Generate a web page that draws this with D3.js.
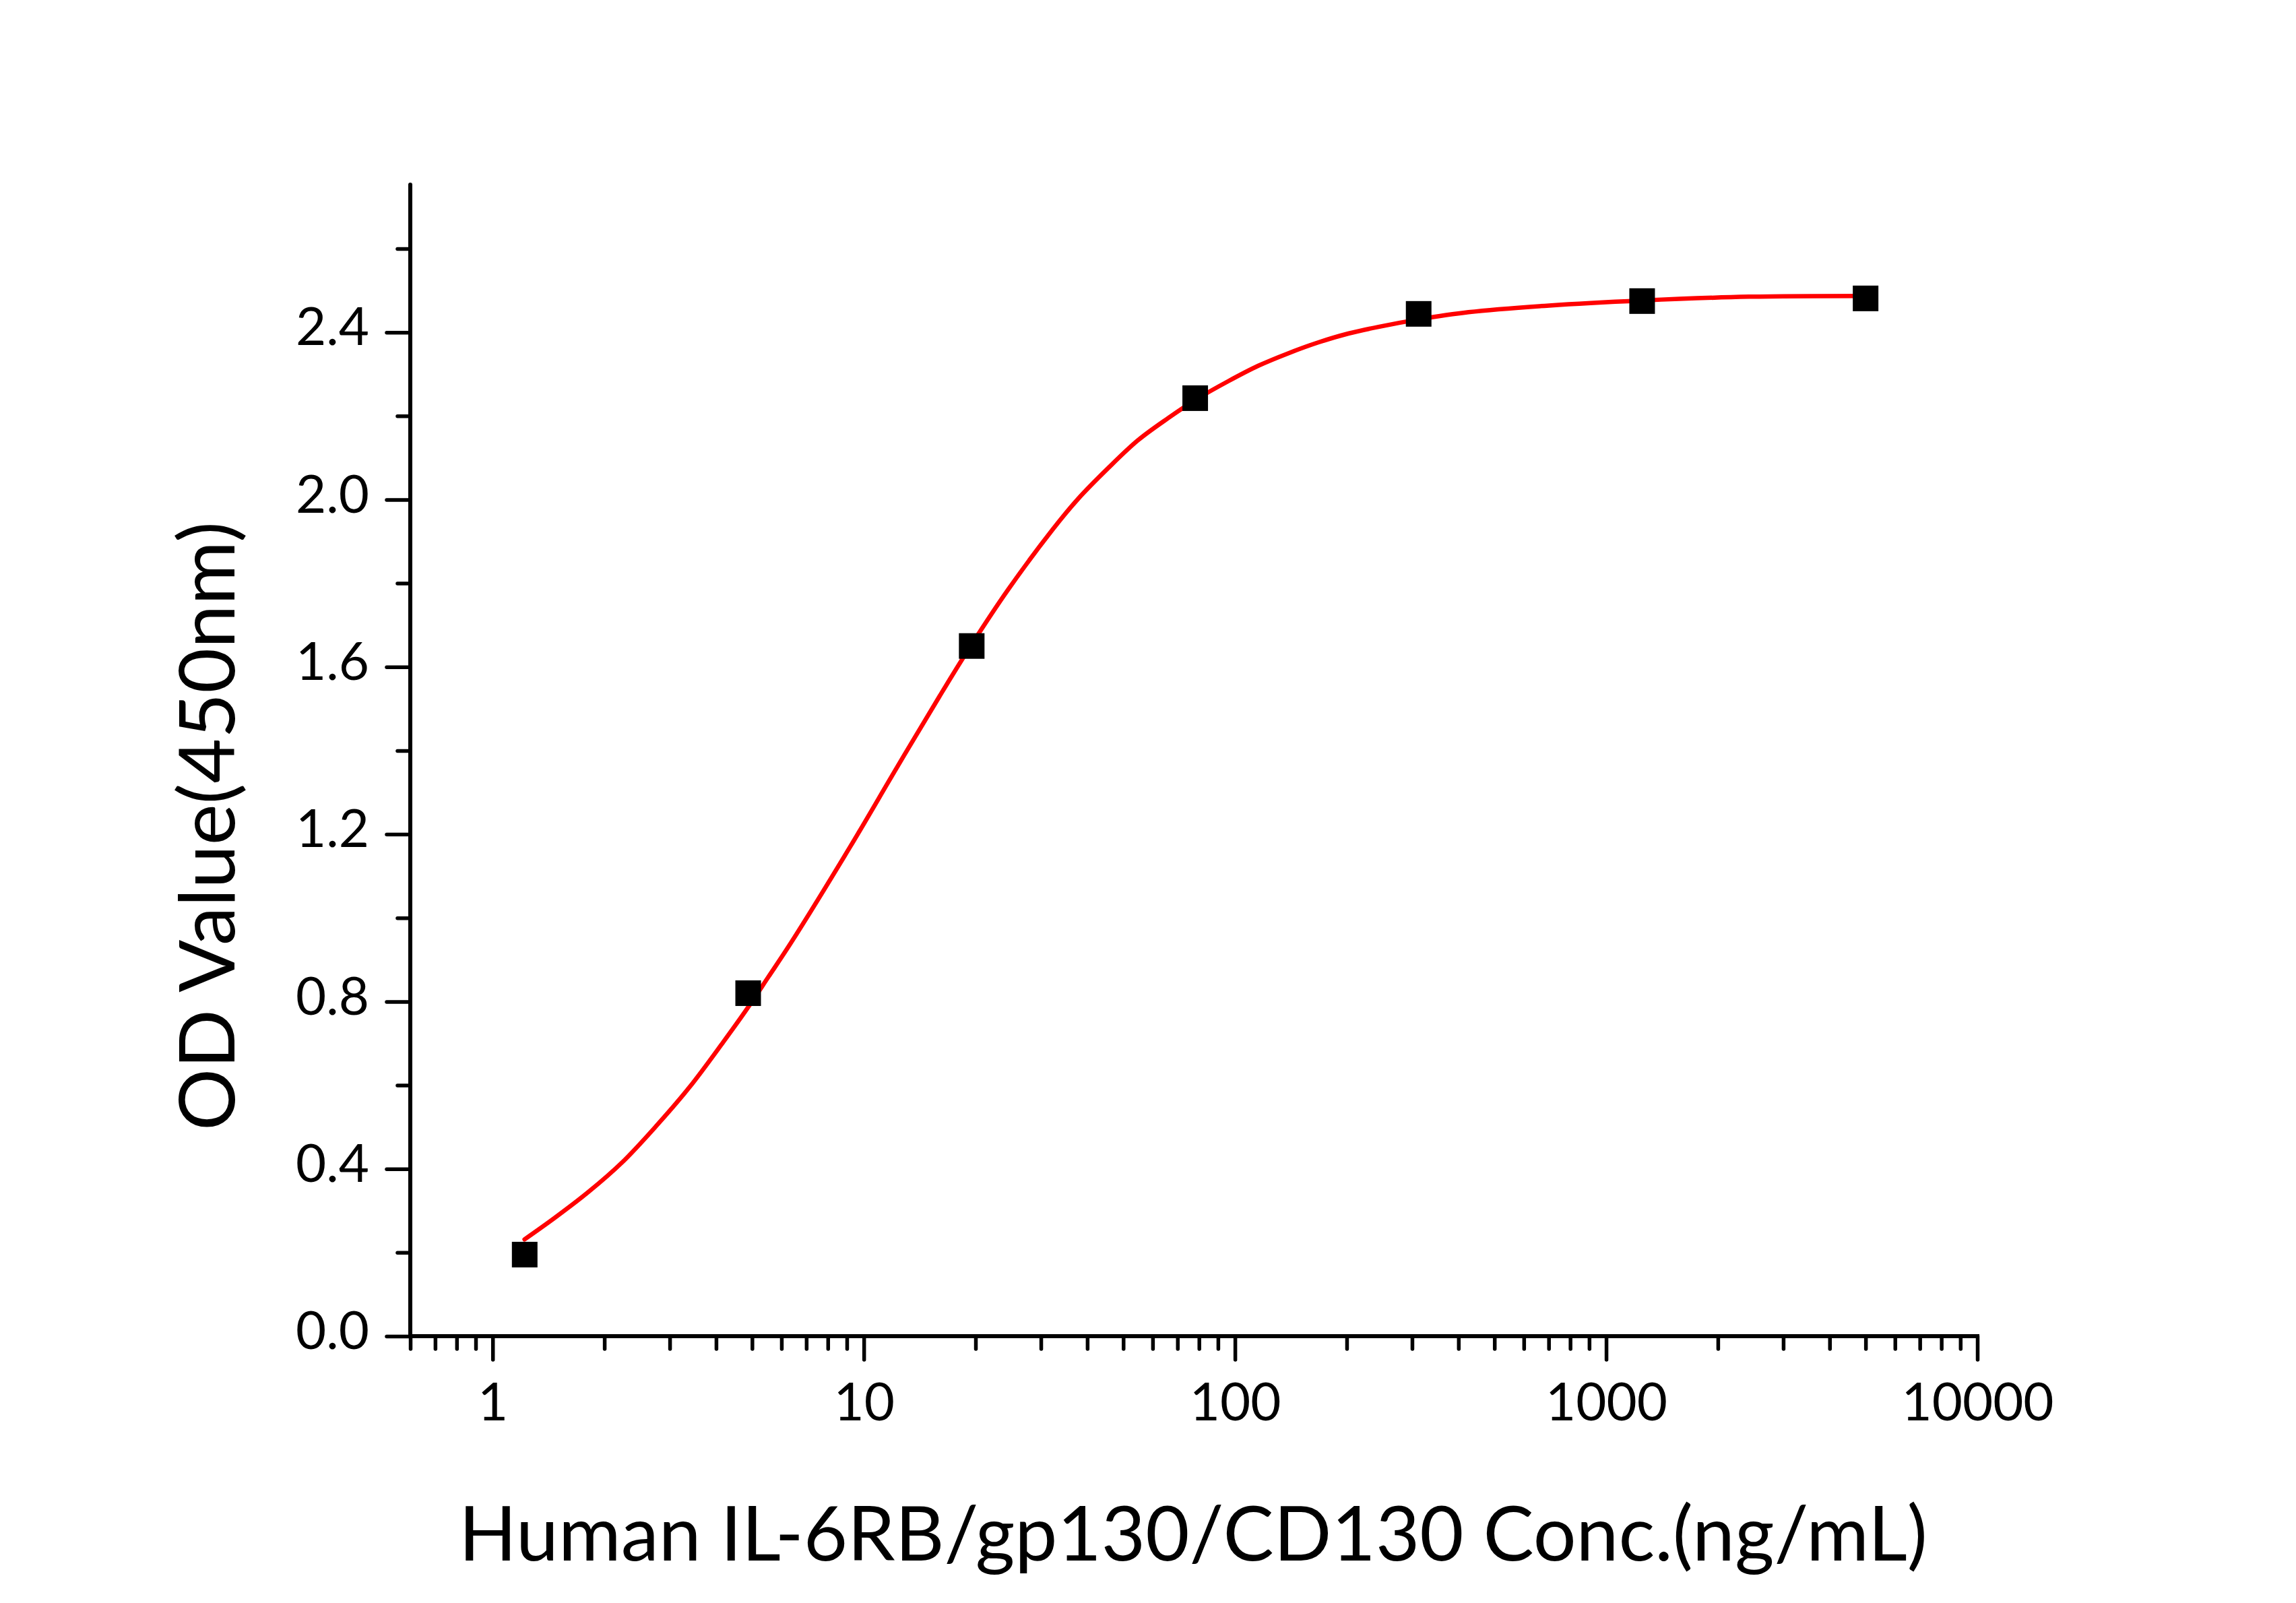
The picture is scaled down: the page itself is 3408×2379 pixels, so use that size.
<!DOCTYPE html>
<html>
<head>
<meta charset="utf-8">
<script src="https://cdn.jsdelivr.net/npm/d3@7"></script>
<style>
  html, body { margin: 0; padding: 0; background: #ffffff; }
  svg { display: block; }
  text { font-family: Lato, "Open Sans", sans-serif; fill: #000; }
</style>
</head>
<body>
<svg id="chart" width="3408" height="2379"></svg>
<script>
// ---- data ----
const concentration = [1.22, 4.88, 19.53, 78.13, 312.5, 1250, 5000];
const odValue = [0.195, 0.82, 1.65, 2.2425, 2.444, 2.4746, 2.481];

// fitted curve
const fitX = [1.219, 1.47, 1.813, 2.234, 2.753, 3.393, 4.18, 4.875, 5.53, 6.35, 9.16, 12.27, 16.0, 19.5, 24.4, 32.3, 37.8, 45.5, 54.8, 66.1, 78.1, 95.9, 115.6, 139.4, 168, 202, 243.6, 312, 425.6, 702, 1250, 2426, 5000];
const fitY = [0.2315, 0.283, 0.345, 0.4156, 0.5015, 0.5955, 0.703, 0.786, 0.8586, 0.939, 1.168, 1.359, 1.530, 1.653, 1.783, 1.929, 2.002, 2.075, 2.142, 2.195, 2.238, 2.283, 2.32, 2.35, 2.376, 2.397, 2.413, 2.4306, 2.448, 2.464, 2.476, 2.485, 2.487];

const xMajorTicks = [1, 10, 100, 1000, 10000];
const xTickLabels = ["1", "10", "100", "1000", "10000"];
const yMajorTicks = [0, 0.4, 0.8, 1.2, 1.6, 2.0, 2.4];
const yTickLabels = ["0.0", "0.4", "0.8", "1.2", "1.6", "2.0", "2.4"];
const yMinorTicks = [0.2, 0.6, 1.0, 1.4, 1.8, 2.2, 2.6];
const xTitle = "Human IL-6RB/gp130/CD130 Conc.(ng/mL)";
const yTitle = "OD Value(450nm)";

(function draw() {
  const svg = d3.select("#chart");
  const pL = 609, pR = 2935, pT = 274, pB = 1983;

  const x = d3.scaleLog().domain([0.6, 10000]).range([pL, pR]);
  const y = d3.scaleLinear().domain([0, 2.753]).range([pB, pT]);

  const xMinorTicks = [];
  [0.1, 1, 10, 100, 1000].forEach(d => {
    for (let k = 2; k <= 9; k++) {
      const v = +(d * k).toPrecision(6);
      if (v >= 0.6 && v < 10000 && !xMajorTicks.includes(v)) xMinorTicks.push(v);
    }
  });

  const axisW = 6;
  const tickW = 5.5;

  function styleTicks(g) {
    g.select(".domain").remove();
    g.selectAll(".tick line").attr("stroke", "#000").attr("stroke-width", tickW).attr("stroke-linecap", "round");
  }

  // X axis
  const gx = svg.append("g").attr("transform", `translate(0,${pB})`);
  gx.call(d3.axisBottom(x).tickValues(xMajorTicks).tickFormat((d, i) => xTickLabels[i]).tickSize(35).tickSizeOuter(0));
  styleTicks(gx);
  gx.selectAll(".tick text").attr("font-size", 78).attr("font-family", "Lato").attr("y", 125).attr("dy", 0);
  const gxm = svg.append("g").attr("transform", `translate(0,${pB})`);
  gxm.call(d3.axisBottom(x).tickValues(xMinorTicks).tickFormat("").tickSize(19).tickSizeOuter(0));
  styleTicks(gxm);

  // Y axis
  const gy = svg.append("g").attr("transform", `translate(${pL},0)`);
  gy.call(d3.axisLeft(y).tickValues(yMajorTicks).tickFormat((d, i) => yTickLabels[i]).tickSize(35).tickSizeOuter(0));
  styleTicks(gy);
  gy.selectAll(".tick text").attr("font-size", 78).attr("font-family", "Lato").attr("x", -61).attr("dy", "0.24em");
  const gym = svg.append("g").attr("transform", `translate(${pL},0)`);
  gym.call(d3.axisLeft(y).tickValues(yMinorTicks).tickFormat("").tickSize(19).tickSizeOuter(0));
  styleTicks(gym);

  // axis lines
  svg.append("line").attr("x1", pL).attr("x2", pR).attr("y1", pB).attr("y2", pB)
    .attr("stroke", "#000").attr("stroke-width", axisW).attr("stroke-linecap", "square");
  svg.append("line").attr("x1", pL).attr("x2", pL).attr("y1", pT).attr("y2", pB)
    .attr("stroke", "#000").attr("stroke-width", axisW).attr("stroke-linecap", "round");

  // fitted curve
  const fit = fitX.map((v, i) => [x(v), y(fitY[i])]);
  svg.append("path").datum(fit)
    .attr("d", d3.line().curve(d3.curveCatmullRom.alpha(0.5)))
    .attr("fill", "none").attr("stroke", "#ff0000").attr("stroke-width", 6.5).attr("stroke-linecap", "round");

  // data points
  const ms = 38;
  svg.append("g").selectAll("rect").data(concentration).join("rect")
    .attr("x", d => x(d) - ms / 2)
    .attr("y", (d, i) => y(odValue[i]) - ms / 2)
    .attr("width", ms).attr("height", ms)
    .attr("fill", "#000");

  // titles, fitted to measured widths
  function fitText(sel, target, base) {
    sel.attr("font-size", base);
    const len = sel.node().getComputedTextLength();
    if (len > 0) sel.attr("font-size", base * target / len);
  }
  const xt = svg.append("text").attr("x", 1771).attr("y", 2316).attr("text-anchor", "middle").text(xTitle);
  fitText(xt, 2180, 110);
  const yt = svg.append("text").attr("transform", "translate(348,1226) rotate(-90)").attr("text-anchor", "middle").text(yTitle);
  fitText(yt, 904, 110);
})();
</script>
</body>
</html>
